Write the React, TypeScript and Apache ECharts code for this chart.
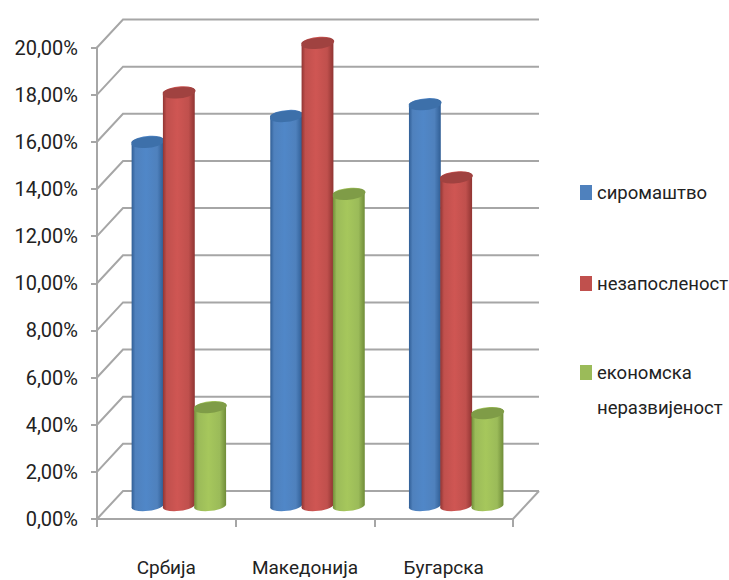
import React, { useEffect, useRef } from "react";
import * as echarts from "echarts";

const categories = ["Србија", "Македонија", "Бугарска"];
const seriesNames = ["сиромаштво", "незапосленост", "економска неразвијеност"];
const siromastvo = [15.4, 16.5, 17.0];
const nezaposlenost = [17.5, 19.6, 13.9];
const nerazvijenost = [4.15, 13.2, 3.9];
const yTicks = [0, 2, 4, 6, 8, 10, 12, 14, 16, 18, 20];
const palette = [
  { base: "#4f81bd", mid: "#5087c8", edge: "#2f5d94", cap: "#3d70aa" },
  { base: "#c0504d", mid: "#cf5653", edge: "#8f3432", cap: "#a04240" },
  { base: "#9bbb59", mid: "#a6c75c", edge: "#6f8c38", cap: "#7f9c47" },
];

const FONT = "Roboto, 'Noto Sans', sans-serif";
const DX = 26;
const DY = 28;
const GRID = "#a6a6a6";

function cylinderItem(seriesIndex: number) {
  return (_params: any, api: any) => {
    const cat = api.value(0);
    const val = api.value(1);
    const top = api.coord([cat, val]);
    const base = api.coord([cat, 0]);
    const cx = top[0] + DX / 2 + (seriesIndex - 1) * 31.3 - 0.5;
    const ty = top[1] - DY / 2;
    const by = base[1] - DY / 2;
    const rx = 16;
    const ry = 5;
    const rot = -6;
    const a = (rot * Math.PI) / 180;
    const ex = rx * Math.cos(a);
    const ey = rx * Math.sin(a);
    const c = palette[seriesIndex];
    const body =
      `M ${cx - ex} ${ty - ey} L ${cx - ex} ${by - ey} ` +
      `A ${rx} ${ry} ${rot} 0 0 ${cx + ex} ${by + ey} ` +
      `L ${cx + ex} ${ty + ey} ` +
      `A ${rx} ${ry} ${rot} 0 0 ${cx - ex} ${ty - ey} Z`;
    const cap =
      `M ${cx - ex} ${ty - ey} A ${rx} ${ry} ${rot} 0 0 ${cx + ex} ${ty + ey} ` +
      `A ${rx} ${ry} ${rot} 0 0 ${cx - ex} ${ty - ey} Z`;
    return {
      type: "group",
      children: [
        {
          type: "path",
          shape: { pathData: body },
          style: {
            fill: new echarts.graphic.LinearGradient(0, 0, 1, 0, [
              { offset: 0, color: c.edge },
              { offset: 0.12, color: c.base },
              { offset: 0.45, color: c.mid },
              { offset: 0.8, color: c.base },
              { offset: 1, color: c.edge },
            ]),
          },
        },
        { type: "path", shape: { pathData: cap }, style: { fill: c.cap } },
      ],
    };
  };
}

function wallItem(params: any, api: any) {
  const p = api.coord([0, api.value(0)]);
  const sys = params.coordSys;
  const x0 = sys.x;
  const x1 = sys.x + sys.width;
  const lineStyle = { stroke: GRID, lineWidth: 2, fill: "none" };
  return {
    type: "group",
    children: [
      {
        type: "polyline",
        shape: {
          points: [
            [x0, p[1]],
            [x0 + DX, p[1] - DY],
            [x1 + DX, p[1] - DY],
          ],
        },
        style: lineStyle,
      },
      ...(api.value(0) === 0
        ? [
            {
              type: "line",
              shape: { x1, y1: p[1], x2: x1 + DX, y2: p[1] - DY },
              style: lineStyle,
            },
          ]
        : []),
    ],
  };
}

const rows = [siromastvo, nezaposlenost, nerazvijenost];

export default function App() {
  const ref = useRef<HTMLDivElement>(null);
  useEffect(() => {
    const chart = echarts.init(ref.current!, null, { renderer: "svg" });
    chart.setOption({
      animation: false,
      grid: { left: 97, right: 216, top: 47.5, bottom: 61, containLabel: false },
      xAxis: {
        type: "category",
        data: categories,
        axisLine: { lineStyle: { color: GRID, width: 2 } },
        axisTick: { show: true, interval: 0, length: 8, lineStyle: { color: GRID, width: 2 } },
        axisLabel: { color: "#222", fontFamily: FONT, fontSize: 19, margin: 39, interval: 0 },
        splitLine: { show: false },
      },
      yAxis: {
        type: "value",
        min: 0,
        max: 20,
        interval: 2,
        axisLine: { show: true, lineStyle: { color: GRID, width: 2 } },
        axisTick: { show: true, length: 6, lineStyle: { color: GRID, width: 2 } },
        splitLine: { show: false },
        axisLabel: {
          color: "#222",
          fontFamily: FONT,
          fontSize: 20,
          margin: 19,
          formatter: (v: number) => v.toFixed(2).replace(".", ",") + "%",
        },
      },
      legend: [
        { index: 0, top: 175 },
        { index: 1, top: 266 },
        { index: 2, top: 320 },
      ].map((l) => ({
        data: [seriesNames[l.index]],
        orient: "vertical",
        left: 580,
        top: l.top,
        selectedMode: false,
        icon: "rect",
        itemWidth: 12,
        itemHeight: 15,
        itemGap: 0,
        padding: 0,
        textStyle: {
          color: "#222",
          fontFamily: FONT,
          fontSize: 18.5,
          lineHeight: 35,
        },
        formatter: (n: string) =>
          l.index === 2 ? "\n" + n.replace(" ", "\n") : n,
      })),
      series: [
        {
          type: "custom",
          name: "walls",
          silent: true,
          clip: false,
          z: 1,
          encode: { y: 0 },
          data: yTicks.map((t) => [t]),
          renderItem: wallItem,
        },
        ...rows.map((vals, si) => ({
          type: "custom",
          name: seriesNames[si],
          clip: false,
          z: 2 + si,
          itemStyle: { color: palette[si].base },
          encode: { x: 0, y: 1 },
          data: vals.map((v, i) => [i, v]),
          renderItem: cylinderItem(si),
        })),
      ],
    });
    return () => chart.dispose();
  }, []);
  return (
    <div
      ref={ref}
      style={{ position: "fixed", left: 0, top: 0, width: 729, height: 580, background: "#fff" }}
    />
  );
}
